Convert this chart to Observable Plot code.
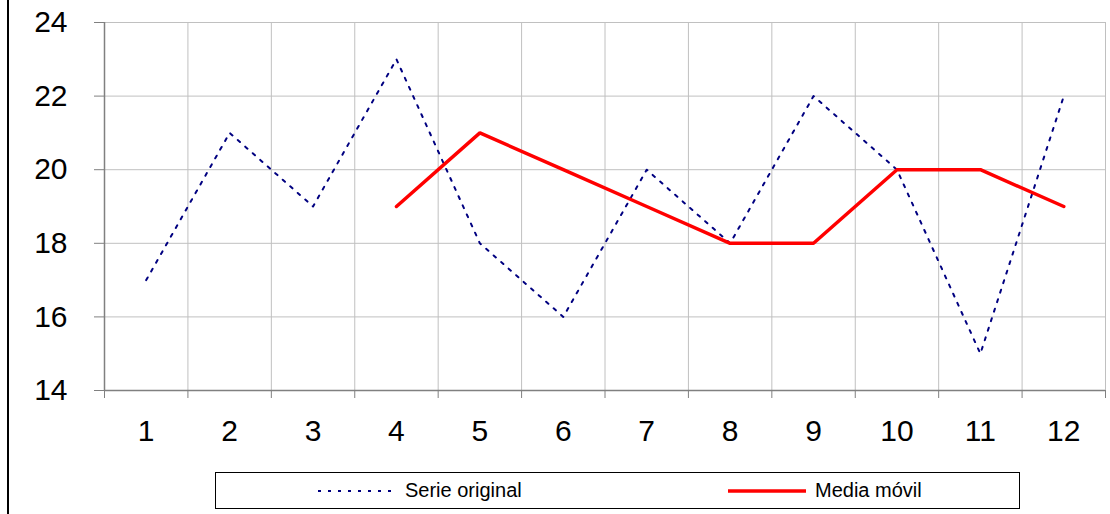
<!DOCTYPE html>
<html>
<head>
<meta charset="utf-8">
<script src="https://cdn.jsdelivr.net/npm/d3@7"></script>
<script src="https://cdn.jsdelivr.net/npm/@observablehq/plot@0.6"></script>
<style>
  html, body { margin: 0; padding: 0; background: white; }
  #wrap { position: relative; width: 1110px; height: 514px; overflow: hidden; font-family: "Liberation Sans", Arial, sans-serif; }
  #chart { position: absolute; left: 0; top: 0; }
  #border { position: absolute; left: 7px; top: 0; width: 2px; height: 514px; background: #000; }
  #legend { position: absolute; left: 215px; top: 472px; width: 805px; height: 37px; border: 1px solid #000; box-sizing: border-box; background: white; }
  .item { position: absolute; top: 0; height: 35px; display: flex; align-items: center; font-size: 20px; color: #000; }
  .item svg { margin-right: 9px; }
</style>
</head>
<body>
<div id="wrap">
  <div id="chart"></div>
  <div id="border"></div>
  <div id="legend"></div>
</div>
<script>
const categories = [1, 2, 3, 4, 5, 6, 7, 8, 9, 10, 11, 12];
const serieOriginal = [17, 21, 19, 23, 18, 16, 20, 18, 22, 20, 15, 22];
const mediaMovil = [null, null, null, 19, 21, 20, 19, 18, 18, 20, 20, 19];
const yTicks = [14, 16, 18, 20, 22, 24];
const seriesNames = ["Serie original", "Media móvil"];

const boundaries = [categories[0] - 0.5, ...categories.map(c => c + 0.5)];

const chart = Plot.plot({
  width: 1110,
  height: 460,
  marginLeft: 104,
  marginRight: 5,
  marginTop: 22,
  marginBottom: 70,
  x: { domain: [boundaries[0], boundaries[boundaries.length - 1]], label: null },
  y: { domain: [yTicks[0], yTicks[yTicks.length - 1]], label: null },
  style: { fontFamily: "'Liberation Sans', Arial, sans-serif", fontSize: "30px", color: "#000", background: "white", overflow: "visible" },
  marks: [
    Plot.gridY(yTicks, { stroke: "#c0c0c0", strokeOpacity: 1 }),
    Plot.ruleX(boundaries, { stroke: "#c0c0c0", strokeOpacity: 1 }),
    Plot.ruleX([boundaries[0]], { stroke: "#808080", strokeWidth: 1.5 }),
    Plot.ruleY([yTicks[0]], { stroke: "#808080", strokeWidth: 1.5 }),
    Plot.axisY(yTicks, { tickSize: 10, tickPadding: 27, stroke: "#808080", fill: "#000", fontSize: 30, label: null }),
    Plot.axisX(boundaries, { tickSize: 8, tickFormat: () => "", stroke: "#808080", label: null }),
    Plot.axisX(categories, { tickSize: 0, tickPadding: 29, fill: "#000", fontSize: 30, label: null }),
    Plot.line(categories, { x: d => d, y: (d, i) => serieOriginal[i], stroke: "#000080", strokeWidth: 2, strokeDasharray: "3,7" }),
    Plot.line(categories, { x: d => d, y: (d, i) => mediaMovil[i], stroke: "#ff0000", strokeWidth: 3.5, strokeLinejoin: "miter" })
  ]
});
document.getElementById("chart").appendChild(chart);

const legend = document.getElementById("legend");
const items = [
  { name: seriesNames[0], left: 102, stroke: "#000080", width: 2, dash: "3,7" },
  { name: seriesNames[1], left: 512, stroke: "#ff0000", width: 3.5, dash: null }
];
items.forEach(it => {
  const div = document.createElement("div");
  div.className = "item";
  div.style.left = it.left + "px";
  div.innerHTML = `<svg width="78" height="10"><line x1="0" x2="78" y1="5" y2="5" stroke="${it.stroke}" stroke-width="${it.width}" ${it.dash ? `stroke-dasharray="${it.dash}"` : ""}/></svg><span>${it.name}</span>`;
  legend.appendChild(div);
});
</script>
</body>
</html>
